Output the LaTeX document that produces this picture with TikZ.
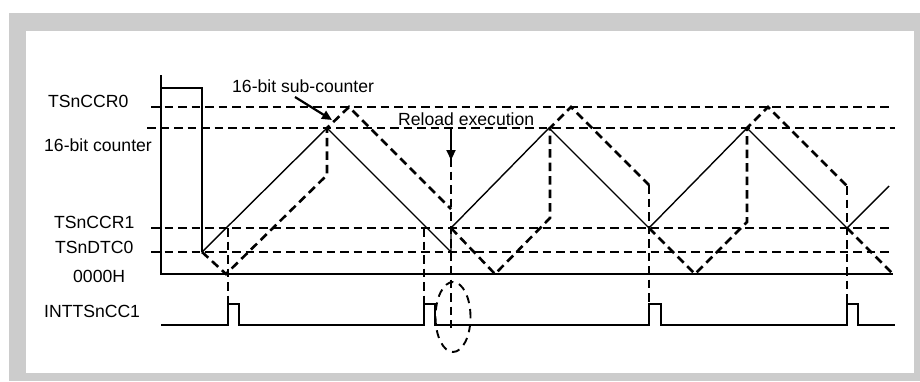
\documentclass[tikz,border=0pt]{standalone}
\usepackage{fontspec}
\setmainfont{Liberation Sans}
\usetikzlibrary{arrows.meta,shapes.geometric}
\definecolor{framegray}{HTML}{CCCCCC}
\begin{document}
\begin{tikzpicture}[x=1pt,y=-1pt,
  solidline/.style={line width=1.4pt,line join=miter},
  dashline/.style={line width=2.6pt,dash pattern=on 8.5pt off 5pt},
  ptr/.style={line width=2.2pt,-{Triangle[length=10pt,width=9pt]}},
  lbl/.style={font=\fontsize{17.6}{20}\selectfont,inner sep=0pt,anchor=base west}]
\useasboundingbox (0,0) rectangle (920,381);
% frame
\fill[framegray] (9,13) rectangle (920,381);
\fill[white] (26,31) rectangle (914,373);
% labels
\node[lbl] (ccr0) at (48,107) {TSnCCR0};
\node[lbl] (cnt) at (44,151) {16-bit counter};
\node[lbl] (ccr1) at (54,228) {TSnCCR1};
\node[lbl] (dtc0) at (55,253) {TSnDTC0};
\node[lbl] (zero) at (73,282) {0000H};
\node[lbl] (intt) at (44,317) {INTTSnCC1};
\node[lbl] (sub) at (232,92) {16-bit sub-counter};
\node[lbl] (rel) at (398,125) {Reload execution};
% horizontal dashed levels
\draw[dashline] (151,107) -- (890,107);
\draw[dashline] (147,128) -- (895,128);
\draw[dashline] (151,228) -- (893,228);
\draw[dashline] (151,252) -- (893,252);
% axis
\draw[solidline] (161,75) -- (161,274) -- (893,274);
% start pulse
\draw[solidline] (161,88) -- (202,88) -- (202,252);
% main counter
\draw[solidline] (202,252) -- (327,128) -- (451,252) -- (451,228) -- (549,128)
  -- (649,228) -- (747,128) -- (847,228) -- (889,186);
% INTTSnCC1
\draw[solidline] (161,325) -- (228,325) -- (228,304) -- (239,304) -- (239,325)
  -- (424,325) -- (424,304) -- (435,304) -- (435,325)
  -- (649,325) -- (649,304) -- (661,304) -- (661,325)
  -- (847,325) -- (847,304) -- (858,304) -- (858,325) -- (895,325);
% sub-counter
\draw[dashline] (202,252) -- (226,274) -- (327,175) -- (327,128) -- (349,107) -- (451,209);
\draw[dashline] (451,228) -- (495,274) -- (550,218) -- (550,128) -- (571,107) -- (649,185);
\draw[dashline] (649,228) -- (695,274) -- (747,222) -- (747,128) -- (768,107) -- (847,186);
\draw[dashline] (847,228) -- (893,274);
% vertical dashed markers
\draw[dashline] (228,228) -- (228,325);
\draw[dashline] (424,228) -- (424,325);
\draw[dashline] (451,158) -- (451,328);
\draw[dashline] (649,185) -- (649,325);
\draw[dashline] (847,186) -- (847,325);
% pointers
\coordinate (subtip) at (332,120);
\coordinate (subtail) at (295,97);
\draw[ptr] (subtail) -- (subtip);
\coordinate (reltail) at (451,128);
\coordinate (reltip) at (451,160);
\draw[ptr] (reltail) -- (reltip);
% ellipse
\node[draw,line width=1.9pt,dash pattern=on 8pt off 6pt,ellipse,minimum width=35pt,minimum height=70pt,inner sep=0pt] (ell) at (453,317) {};
\end{tikzpicture}
\end{document}
